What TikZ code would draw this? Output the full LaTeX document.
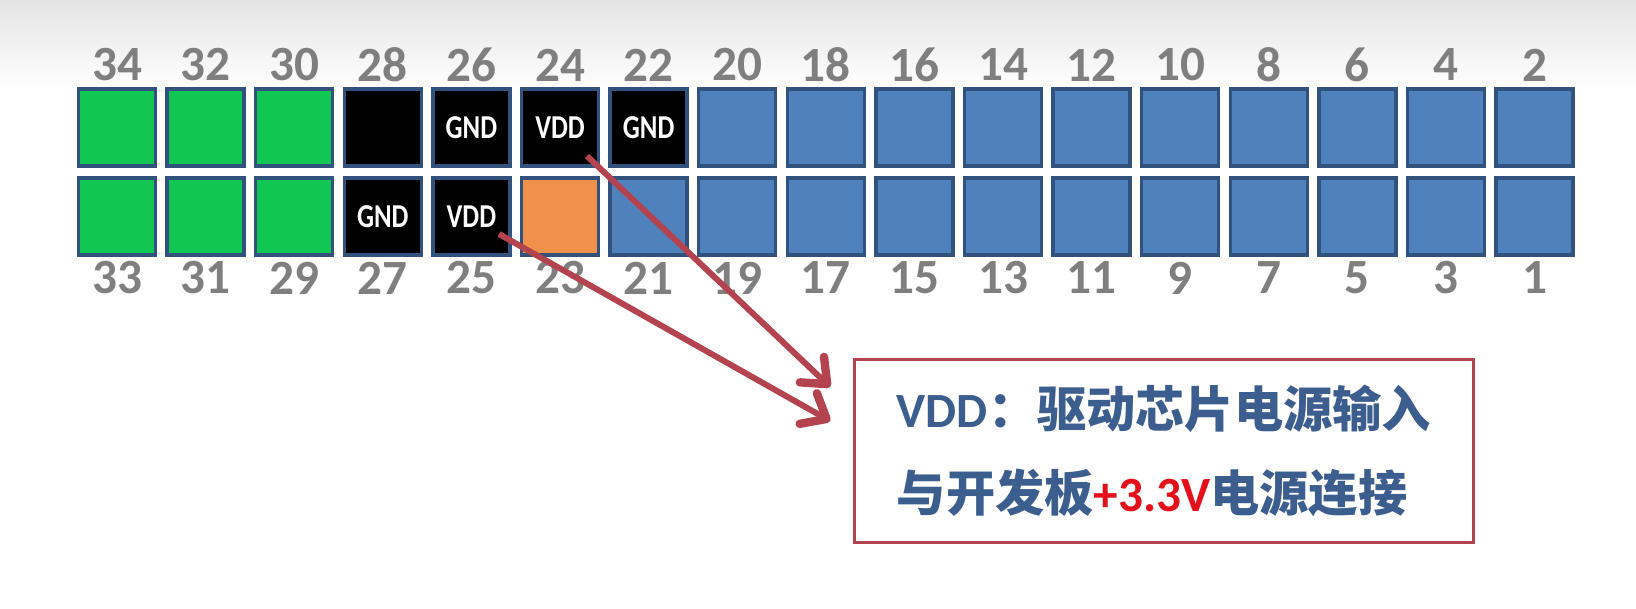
\documentclass[tikz,border=0pt]{standalone}
\usepackage{fontspec}
\setmainfont{Carlito}
\newfontfamily\cjk{Noto Sans CJK SC}
\usetikzlibrary{arrows.meta,calc}
\definecolor{PinGreen}{HTML}{12C653}
\definecolor{PinOrange}{HTML}{F0914B}
\definecolor{PinBlue}{HTML}{4F81BD}
\definecolor{PinEdge}{HTML}{31527D}
\definecolor{NumGray}{HTML}{7F7F7F}
\definecolor{ArrowRed}{HTML}{B3444F}
\definecolor{NoteBlue}{HTML}{3C5E8E}
\definecolor{NoteRed}{HTML}{E3101A}
\definecolor{TopGray}{HTML}{E4E4E4}
\newcommand{\pinname}[1]{\scalebox{0.8}[1]{#1}}

\begin{document}
\begin{tikzpicture}[x=0.01cm,y=0.01cm,>={Straight Barb[length=6pt,width=10pt,line width=0pt 1.4,round]}]
\tikzset{pinbox/.style={draw=PinEdge,line width=1pt,minimum size=0.77cm,inner sep=0pt,text=white,font=\bfseries\fontsize{9.5}{9.5}\selectfont},
         greenpin/.style={pinbox,fill=PinGreen},
         blackpin/.style={pinbox,fill=black},
         orangepin/.style={pinbox,fill=PinOrange},
         bluepin/.style={pinbox,fill=PinBlue},
         pinnum/.style={text=NumGray,inner sep=0pt,font=\bfseries\fontsize{14}{14}\selectfont},
         notebox/.style={draw=ArrowRed,line width=0.9pt,minimum width=6.18cm,minimum height=1.83cm,align=left,text=NoteBlue,font=\cjk\bfseries\fontsize{14}{23.9}\selectfont},
         feed/.style={->,draw=ArrowRed,line width=1.7pt}}
\useasboundingbox (0,0) rectangle (1636,-609);
\shade[top color=TopGray,bottom color=white] (0,0) rectangle (1636,-90);
% special pins, columns 0..6
\foreach \i/\tstyle/\tname/\bstyle/\bname in {0/greenpin/{}/greenpin/{},1/greenpin/{}/greenpin/{},2/greenpin/{}/greenpin/{},3/blackpin/{}/blackpin/GND,4/blackpin/GND/blackpin/VDD,5/blackpin/VDD/orangepin/{},6/blackpin/GND/bluepin/{}}{
  \pgfmathtruncatemacro\tnum{34-2*\i}
  \pgfmathtruncatemacro\bnum{33-2*\i}
  \node[\tstyle] (t\tnum) at (117+88.6*\i,-127.5) {\pinname{\tname}};
  \node[\bstyle] (b\bnum) at (117+88.6*\i,-216.5) {\pinname{\bname}};
  \node[pinnum] (n\tnum) at ($(t\tnum)+(0,62.5)$) {\tnum};
  \node[pinnum] (n\bnum) at ($(b\bnum)+(0,-61.5)$) {\bnum};
}
% plain pins, columns 7..16
\foreach \i in {7,...,16}{
  \pgfmathtruncatemacro\tnum{34-2*\i}
  \pgfmathtruncatemacro\bnum{33-2*\i}
  \node[bluepin] (t\tnum) at (117+88.6*\i,-127.5) {};
  \node[bluepin] (b\bnum) at (117+88.6*\i,-216.5) {};
  \node[pinnum] (n\tnum) at ($(t\tnum)+(0,62.5)$) {\tnum};
  \node[pinnum] (n\bnum) at ($(b\bnum)+(0,-61.5)$) {\bnum};
}
\node[notebox] (note) at (1164,-451) {{\rmfamily VDD}：驱动芯片电源输入\\与开发板\textcolor{NoteRed}{\rmfamily +3.3V}电源连接};
\draw[feed] ($(t24)+(27,-28.5)$) -- ($(note.west)+(-23,64)$);
\draw[feed] ($(b25)+(27.6,-17.5)$) -- ($(note.west)+(-23,30)$);
\end{tikzpicture}
\end{document}
